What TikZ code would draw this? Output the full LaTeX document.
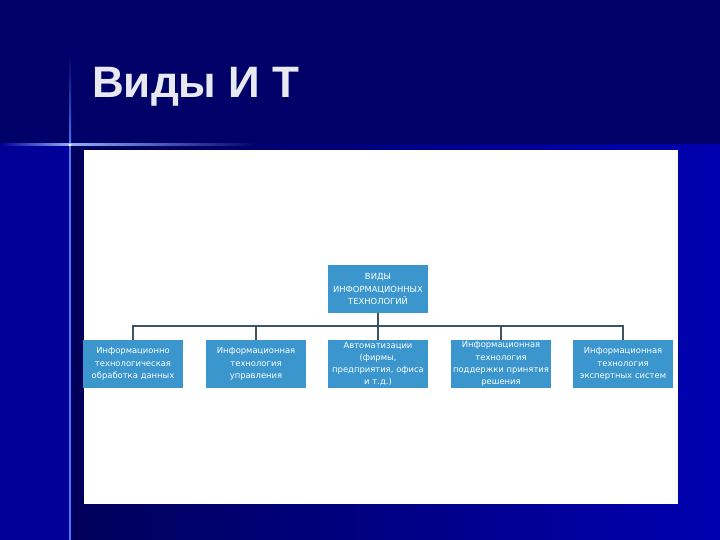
\documentclass[tikz,border=0pt]{standalone}
\usepackage{fontspec}
\setmainfont{Liberation Sans}
\newfontfamily\boxfont{DejaVu Sans}
\usepackage{xcolor}
\usepackage{tikz}
\definecolor{slidenavy}{HTML}{000068}
\definecolor{stripblue}{HTML}{000099}
\definecolor{deepnavy}{HTML}{00005A}
\definecolor{brightblue}{HTML}{0000B0}
\definecolor{glowblue}{HTML}{4A78F0}
\definecolor{boxblue}{HTML}{3A96CC}
\definecolor{linkgray}{HTML}{3D5467}
\definecolor{titlegray}{HTML}{E8E8F0}

\tikzset{
  itbox/.style={fill=boxblue, text=white, minimum width=98pt, minimum height=48pt,
    inner sep=0pt, align=center, text width=100pt,
    font=\boxfont\fontsize{8.4}{12.3}\selectfont},
  link/.style={draw=linkgray, line width=2pt}
}

\begin{document}
\begin{tikzpicture}[x=1pt, y=-1pt]
  \useasboundingbox (0,0) rectangle (720,540);
  % background of the slide
  \fill[slidenavy] (0,0) rectangle (720,540);
  \fill[stripblue] (0,145) rectangle (70,540);
  \shade[left color=deepnavy, right color=brightblue] (70,145) rectangle (720,540);
  \shade[top color=slidenavy, bottom color=glowblue] (69,55) rectangle (71,145);
  \fill[glowblue] (69,145) rectangle (71,540);
  \shade[left color=stripblue, right color=glowblue!60!white] (0,144) rectangle (70,146);
  \shade[left color=glowblue!60!white, right color=slidenavy] (70,144) rectangle (260,146);
  \fill[white] (70,145) circle (1.5);
  \fill[white] (84,150) rectangle (678,504);

  \node[anchor=base west, inner sep=0pt, text=titlegray, font=\bfseries\fontsize{44}{48}\selectfont]
    (title) at (92,98) {Виды И Т};

  % tree
  \node[itbox, minimum width=100pt, minimum height=48pt] (top) at (378,289)
    {ВИДЫ\\ИНФОРМАЦИОННЫХ\\ТЕХНОЛОГИЙ};
  \coordinate (bus) at (378,326);

  \node[itbox] (c1) at (133,364) {Информационно\\технологическая\\обработка данных};
  \node[itbox] (c2) at (256,364) {Информационная\\технология\\управления};
  \node[itbox] (c3) at (378,364) {Автоматизации\\(фирмы,\\предприятия, офиса\\и т.д.)};
  \node[itbox, minimum width=100pt] (c4) at (501,364) {Информационная\\технология\\поддержки принятия\\решения};
  \node[itbox] (c5) at (623,364) {Информационная\\технология\\экспертных систем};

  \foreach \i in {1,...,5}
    \draw[link] (top.south) -- (bus) -| (c\i.north);
\end{tikzpicture}
\end{document}
